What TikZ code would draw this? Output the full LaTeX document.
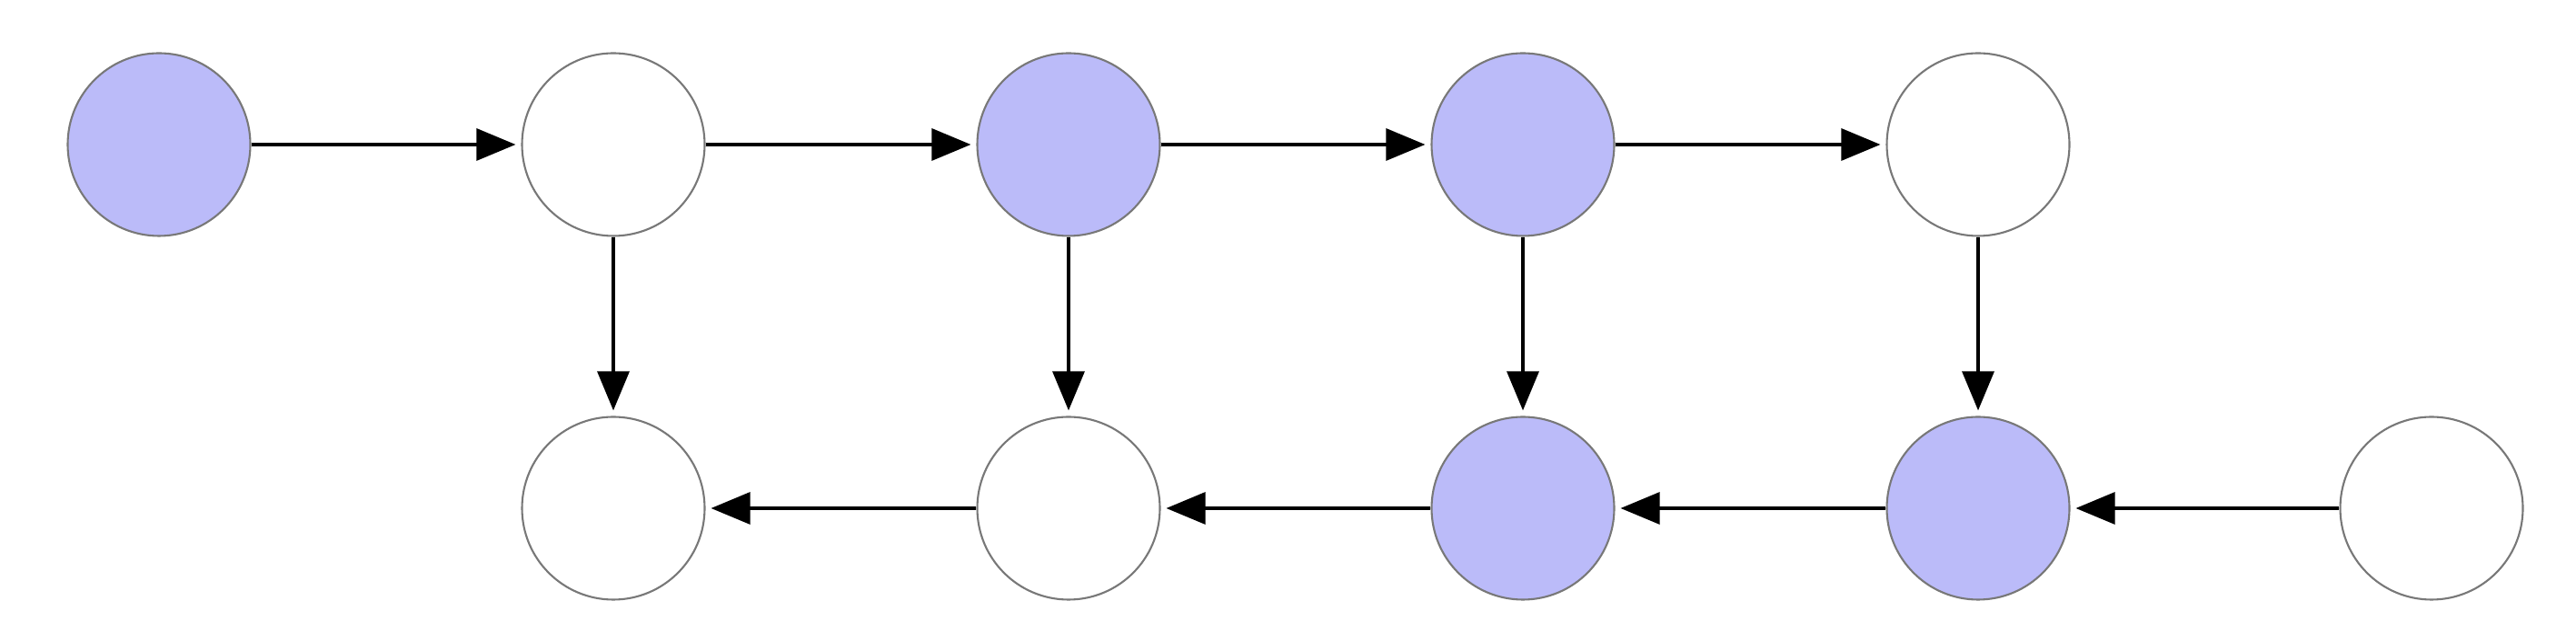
\documentclass[tikz,border=0pt]{standalone}
\usetikzlibrary{arrows.meta}
\definecolor{nodeblue}{RGB}{187,187,249}
\definecolor{rimgray}{RGB}{120,120,120}
\begin{document}
\begin{tikzpicture}[
  state/.style={circle, draw=rimgray, line width=0.6pt, minimum size=2.01cm, inner sep=0pt, fill=white},
  marked/.style={state, fill=nodeblue},
  edge/.style={line width=0.9pt, -{Triangle[length=0.43cm,width=0.35cm]}, shorten >=0.06cm}
]
\useasboundingbox (0,0) rectangle (28.35,7.05);
\node[marked] (t1) at (1.75,5.46) {};
\node[state]  (t2) at (6.75,5.46) {};
\node[marked] (t3) at (11.76,5.46) {};
\node[marked] (t4) at (16.76,5.46) {};
\node[state]  (t5) at (21.77,5.46) {};
\node[state]  (b1) at (6.75,1.46) {};
\node[state]  (b2) at (11.76,1.46) {};
\node[marked] (b3) at (16.76,1.46) {};
\node[marked] (b4) at (21.77,1.46) {};
\node[state]  (b5) at (26.76,1.46) {};
\draw[edge] (t1) -- (t2);
\draw[edge] (t2) -- (t3);
\draw[edge] (t3) -- (t4);
\draw[edge] (t4) -- (t5);
\draw[edge] (t2) -- (b1);
\draw[edge] (t3) -- (b2);
\draw[edge] (t4) -- (b3);
\draw[edge] (t5) -- (b4);
\draw[edge] (b5) -- (b4);
\draw[edge] (b4) -- (b3);
\draw[edge] (b3) -- (b2);
\draw[edge] (b2) -- (b1);
\end{tikzpicture}
\end{document}
